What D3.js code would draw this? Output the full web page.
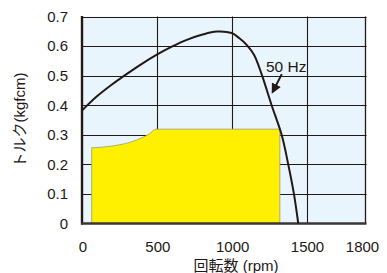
<!DOCTYPE html>
<html>
<head>
<meta charset="utf-8">
<script src="https://cdn.jsdelivr.net/npm/d3@7"></script>
<style>
  body { margin: 0; background: #fff; }
  text { font-family: "Liberation Sans", Arial, "Noto Sans CJK JP", sans-serif; fill: #231815; }
</style>
</head>
<body>
<script>
// torque curve at 50 Hz (rpm, kgfcm)
var curveRpm    = [0, 100, 200, 300, 400, 500, 600, 700, 800, 900, 1000, 1050, 1100, 1150, 1200, 1267, 1334, 1378, 1416, 1445];
var curveTorque = [0.382, 0.43, 0.47, 0.506, 0.54, 0.571, 0.598, 0.621, 0.638, 0.649, 0.644, 0.627, 0.604, 0.57, 0.505, 0.4, 0.3, 0.2, 0.1, 0];

// yellow working region
var areaRpm    = [65, 150, 250, 330, 400, 450, 495, 1322];
var areaTorque = [0.256, 0.259, 0.266, 0.276, 0.29, 0.303, 0.319, 0.319];

var xTicks = [0, 500, 1000, 1500, 1800];
var yTicks = [0, 0.1, 0.2, 0.3, 0.4, 0.5, 0.6, 0.7];

var svg = d3.select("body").append("svg")
    .attr("width", 387)
    .attr("height", 273);

// 1800 sits at the frame edge, not on the linear spacing of the others
var x = d3.scaleLinear().domain([0, 1500, 1800]).range([82, 306.5, 365.5]);
var y = d3.scaleLinear().domain([0, 0.7]).range([223.5, 16.5]);

var dark = "#231815";

svg.append("rect")
    .attr("x", x(0)).attr("y", y(0.7))
    .attr("width", x(1800) - x(0)).attr("height", y(0) - y(0.7))
    .attr("fill", "#e8f5fd");

// grid
svg.append("g").selectAll("line.h")
    .data(yTicks.filter(d => d > 0))
    .enter().append("line")
    .attr("x1", x(0)).attr("x2", x(1800) + 1)
    .attr("y1", d => Math.round(y(d)) + 0.5).attr("y2", d => Math.round(y(d)) + 0.5)
    .attr("stroke", dark).attr("stroke-width", 1.1);

svg.append("g").selectAll("line.v")
    .data([500, 1000, 1500])
    .enter().append("line")
    .attr("x1", d => Math.round(x(d)) + 0.5).attr("x2", d => Math.round(x(d)) + 0.5)
    .attr("y1", y(0.7)).attr("y2", y(0))
    .attr("stroke", dark).attr("stroke-width", 1.1);

svg.append("line")
    .attr("x1", x(1800)).attr("x2", x(1800))
    .attr("y1", y(0.7)).attr("y2", y(0))
    .attr("stroke", dark).attr("stroke-width", 1.3);

// yellow area
var areaData = areaRpm.map((r, i) => [r, areaTorque[i]]);
var area = d3.area()
    .x(d => x(d[0]))
    .y0(y(0))
    .y1(d => y(d[1]))
    .curve(d3.curveMonotoneX);
svg.append("path")
    .datum(areaData)
    .attr("d", area)
    .attr("fill", "#fff000")
    .attr("stroke", "#aaa46a")
    .attr("stroke-width", 0.9);

// axes
svg.append("line")
    .attr("x1", x(0)).attr("x2", x(0))
    .attr("y1", y(0.7) - 0.5).attr("y2", y(0) + 1)
    .attr("stroke", dark).attr("stroke-width", 2.4);
svg.append("line")
    .attr("x1", x(0) - 1).attr("x2", x(1800) + 1)
    .attr("y1", y(0)).attr("y2", y(0))
    .attr("stroke", "#3b3536").attr("stroke-width", 2.4);

// torque curve
var curveData = curveRpm.map((r, i) => [r, curveTorque[i]]);
var line = d3.line()
    .x(d => x(d[0]))
    .y(d => y(d[1]))
    .curve(d3.curveCatmullRom.alpha(0.5));
svg.append("path")
    .datum(curveData)
    .attr("d", line)
    .attr("fill", "none")
    .attr("stroke", dark)
    .attr("stroke-width", 2);

// tick labels
svg.append("g").selectAll("text")
    .data(yTicks)
    .enter().append("text")
    .attr("x", 68)
    .attr("y", d => y(d))
    .attr("dy", "0.36em")
    .attr("text-anchor", "end")
    .attr("font-size", "15px")
    .text(d => d === 0 ? "0" : d.toFixed(1));

svg.append("g").selectAll("text")
    .data(xTicks)
    .enter().append("text")
    .attr("x", d => d === 1800 ? x(d) - 3 : x(d) + 1)
    .attr("y", 252)
    .attr("text-anchor", "middle")
    .attr("font-size", "15px")
    .text(d => d);

// axis titles
svg.append("text")
    .attr("x", 236)
    .attr("y", 271)
    .attr("text-anchor", "middle")
    .attr("font-size", "15px")
    .text("回転数 (rpm)");

svg.append("text")
    .attr("transform", "translate(25,120)rotate(-90)")
    .attr("text-anchor", "middle")
    .attr("font-size", "15px")
    .text("トルク(kgfcm)");

// 50 Hz label with arrow
svg.append("defs").append("marker")
    .attr("id", "head")
    .attr("viewBox", "0 0 10 10")
    .attr("refX", 8).attr("refY", 5)
    .attr("markerWidth", 5).attr("markerHeight", 5)
    .attr("orient", "auto")
    .append("path")
    .attr("d", "M0,0L10,5L0,10z")
    .attr("fill", dark);

svg.append("line")
    .attr("x1", x(1335)).attr("y1", y(0.505))
    .attr("x2", x(1274)).attr("y2", y(0.445))
    .attr("stroke", dark).attr("stroke-width", 2)
    .attr("marker-end", "url(#head)");

svg.append("text")
    .attr("x", 266)
    .attr("y", 72)
    .attr("font-size", "15.5px")
    .text("50 Hz");
</script>
</body>
</html>
